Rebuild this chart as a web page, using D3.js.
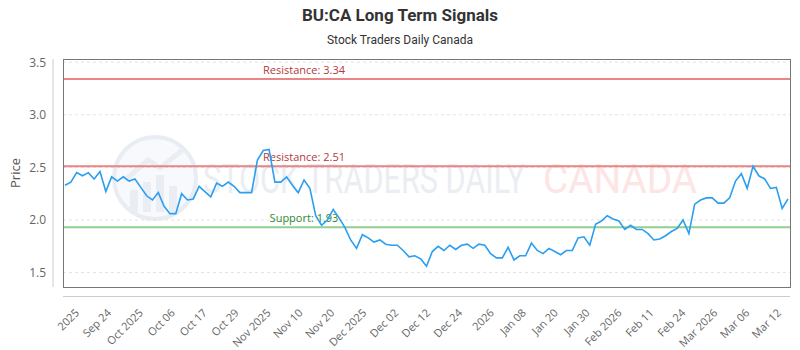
<!DOCTYPE html>
<html>
<head>
<meta charset="utf-8">
<script src="https://cdn.jsdelivr.net/npm/d3@7"></script>
<style>
  body { margin: 0; background: #fff; }
  svg { display: block; }
</style>
</head>
<body>
<svg id="chart"></svg>
<script>
var width = 800, height = 350;

// data
var title = "BU:CA Long Term Signals";
var subtitle = "Stock Traders Daily Canada";
var prices = [2.33, 2.36, 2.45, 2.42, 2.45, 2.39, 2.46, 2.27, 2.41, 2.37,
  2.41, 2.37, 2.39, 2.31, 2.23, 2.19, 2.26, 2.13, 2.06, 2.06,
  2.25, 2.19, 2.20, 2.32, 2.27, 2.22, 2.35, 2.32, 2.36, 2.32,
  2.26, 2.26, 2.26, 2.57, 2.66, 2.67, 2.36, 2.36, 2.41, 2.33,
  2.26, 2.38, 2.30, 2.04, 1.95, 2.00, 2.10, 2.02, 1.93, 1.81,
  1.73, 1.86, 1.83, 1.79, 1.81, 1.77, 1.76, 1.76, 1.71, 1.65,
  1.66, 1.63, 1.56, 1.70, 1.75, 1.71, 1.76, 1.72, 1.76, 1.77,
  1.73, 1.77, 1.76, 1.68, 1.64, 1.64, 1.74, 1.62, 1.66, 1.66,
  1.78, 1.71, 1.68, 1.73, 1.70, 1.67, 1.71, 1.71, 1.83, 1.84,
  1.76, 1.96, 1.99, 2.04, 2.01, 1.99, 1.91, 1.95, 1.91, 1.91,
  1.87, 1.81, 1.82, 1.85, 1.89, 1.92, 2.00, 1.87, 2.15, 2.19,
  2.21, 2.21, 2.16, 2.16, 2.21, 2.37, 2.44, 2.30, 2.51, 2.42,
  2.39, 2.30, 2.31, 2.11, 2.20];
var tickLabels = ["2025", "Sep 24", "Oct 2025", "Oct 06", "Oct 17", "Oct 29",
  "Nov 2025", "Nov 10", "Nov 20", "Dec 2025", "Dec 02", "Dec 12", "Dec 24",
  "2026", "Jan 08", "Jan 20", "Jan 30", "Feb 2026", "Feb 11", "Feb 24",
  "Mar 2026", "Mar 06", "Mar 12"];
var yTicks = [1.5, 2.0, 2.5, 3.0, 3.5];
var levelNames = ["Resistance", "Resistance", "Support"];
var levelValues = [3.34, 2.51, 1.93];
var levelKinds = ["res", "res", "sup"];

// plot box
var plotLeft = 63, plotRight = 790, plotTop = 59, plotBottom = 287;

var svg = d3.select("#chart").attr("width", width).attr("height", height);

var x = d3.scalePoint()
    .domain(d3.range(prices.length))
    .range([plotLeft + 2, plotRight - 2]);
var y = d3.scaleLinear()
    .domain([1.363, 3.53])
    .range([plotBottom, plotTop]);
var xt = d3.scalePoint()
    .domain(tickLabels)
    .range([79.5, 781.5]);

// titles
svg.append("text")
    .attr("x", width / 2).attr("y", 21)
    .attr("text-anchor", "middle")
    .style("font-family", "Roboto, 'Open Sans', sans-serif")
    .style("font-weight", "bold")
    .style("font-size", "17px")
    .style("fill", "#333")
    .text(title);
svg.append("text")
    .attr("x", width / 2).attr("y", 44)
    .attr("text-anchor", "middle")
    .style("font-family", "Roboto, 'Open Sans', sans-serif")
    .style("font-size", "12px")
    .style("fill", "#333")
    .text(subtitle);

// watermark
var wm = svg.append("g").attr("class", "watermark");
wm.append("circle")
    .attr("cx", 155).attr("cy", 178).attr("r", 41)
    .style("fill", "#f7f9fc")
    .style("stroke", "#e8ecf3")
    .style("stroke-width", 4);
[[130, 190, 8], [143, 182, 8], [156, 175, 8], [169, 186, 8]].forEach(function (b) {
    wm.append("rect")
        .attr("x", b[0]).attr("y", b[1])
        .attr("width", b[2]).attr("height", 212 - b[1])
        .style("fill", "#eaeef4");
});
wm.append("path")
    .attr("d", "M125,180 L148,160 L160,168 L185,148")
    .style("fill", "none")
    .style("stroke", "#eaeef4")
    .style("stroke-width", 5);
wm.append("text")
    .attr("x", 203).attr("y", 193)
    .attr("textLength", 322).attr("lengthAdjust", "spacingAndGlyphs")
    .style("font-family", "Roboto, sans-serif")
    .style("font-size", "40px")
    .style("fill", "#eaeef3")
    .text("STOCK TRADERS DAILY");
wm.append("text")
    .attr("x", 543).attr("y", 193)
    .attr("textLength", 154).attr("lengthAdjust", "spacingAndGlyphs")
    .style("font-family", "Roboto, sans-serif")
    .style("font-size", "40px")
    .style("fill", "#fde5e5")
    .text("CANADA");

// grid
svg.append("g").selectAll("line")
    .data(yTicks)
    .enter().append("line")
    .attr("x1", plotLeft).attr("x2", plotRight)
    .attr("y1", function (d) { return y(d); })
    .attr("y2", function (d) { return y(d); })
    .style("stroke", "#e2e2e2")
    .style("stroke-dasharray", "3,3");

// y axis
var yAxis = svg.append("g")
    .attr("transform", "translate(53,0)")
    .call(d3.axisLeft(y).tickValues(yTicks).tickFormat(d3.format(".1f")).tickSize(0).tickPadding(7));
yAxis.select(".domain").attr("d", "M0," + plotTop + "V" + plotBottom).style("stroke", "#ccc");
yAxis.selectAll("text")
    .style("font-family", "'Open Sans', sans-serif")
    .style("font-size", "12px")
    .style("fill", "#666");

svg.append("text")
    .attr("transform", "translate(20," + ((plotTop + plotBottom) / 2) + ") rotate(-90)")
    .attr("text-anchor", "middle")
    .style("font-family", "'Open Sans', sans-serif")
    .style("font-size", "13px")
    .style("fill", "#555")
    .text("Price");

// x axis
var xAxis = svg.append("g")
    .attr("transform", "translate(0,296.5)")
    .call(d3.axisBottom(xt).tickSize(0).tickPadding(0));
xAxis.select(".domain").attr("d", "M" + plotLeft + ",0H" + plotRight).style("stroke", "#ccc");
xAxis.selectAll("text")
    .attr("y", 0).attr("dy", 0)
    .attr("transform", "translate(0,17) rotate(-45)")
    .style("text-anchor", "end")
    .style("font-family", "'Open Sans', sans-serif")
    .style("font-size", "11px")
    .style("fill", "#666");

// support / resistance
var levels = svg.append("g").selectAll("g")
    .data(levelValues)
    .enter().append("g");
levels.append("line")
    .attr("x1", plotLeft).attr("x2", plotRight)
    .attr("y1", function (d) { return y(d); })
    .attr("y2", function (d) { return y(d); })
    .style("stroke", function (d, i) { return levelKinds[i] == "res" ? "#e98585" : "#92cf92"; })
    .style("stroke-width", 2);
levels.append("text")
    .attr("x", 304)
    .attr("y", function (d) { return y(d) - 5; })
    .attr("text-anchor", "middle")
    .style("font-family", "'Open Sans', sans-serif")
    .style("font-size", "11px")
    .style("fill", function (d, i) { return levelKinds[i] == "res" ? "#b03a3a" : "#2f8a2f"; })
    .text(function (d, i) { return levelNames[i] + ": " + d.toFixed(2); });

// price line
var line = d3.line()
    .x(function (d, i) { return x(i); })
    .y(function (d) { return y(d); });
svg.append("path")
    .datum(prices)
    .attr("d", line)
    .style("fill", "none")
    .style("stroke", "#2b9ef0")
    .style("stroke-width", 1.6);

// frame
svg.append("rect")
    .attr("x", plotLeft + 0.5).attr("y", plotTop + 0.5)
    .attr("width", plotRight - plotLeft).attr("height", plotBottom - plotTop)
    .style("fill", "none")
    .style("stroke", "#777")
    .style("stroke-width", 1);
</script>
</body>
</html>
